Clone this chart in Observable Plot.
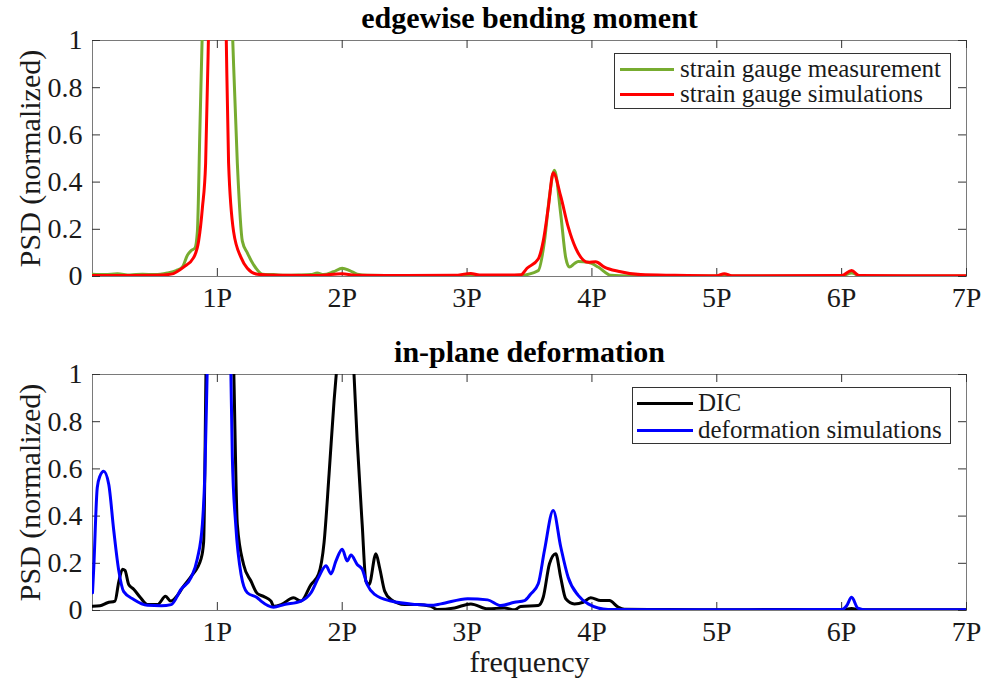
<!DOCTYPE html>
<html>
<head>
<meta charset="utf-8">
<script src="https://cdn.jsdelivr.net/npm/d3@7"></script>
<script src="https://cdn.jsdelivr.net/npm/@observablehq/plot@0.6"></script>
<style>
  html, body { margin: 0; padding: 0; background: #fff; }
  #chart { position: relative; width: 985px; height: 679px; font-family: "Liberation Serif", "Times New Roman", serif; color: #1a1a1a; }
  .panel { position: absolute; left: 0; }
  .legend { position: absolute; border: 1px solid #333; background: #fff; box-sizing: border-box; }
  .legend .sw { position: absolute; height: 3px; }
  .legend .lb { position: absolute; font-size: 25px; line-height: 25px; white-space: nowrap; }
</style>
</head>
<body>
<div id="chart"></div>
<script>
// ---------- data (frequency in multiples of P, normalized PSD) ----------
const xTicks = [1, 2, 3, 4, 5, 6, 7];
const xTickLabels = ["1P", "2P", "3P", "4P", "5P", "6P", "7P"];
const yTicks = [0, 0.2, 0.4, 0.6, 0.8, 1];
const yTickLabels = ["0", "0.2", "0.4", "0.6", "0.8", "1"];

const titles = ["edgewise bending moment", "in-plane deformation"];
const yLabel = "PSD (normalized)";
const xLabel = "frequency";
const seriesNames = ["strain gauge measurement", "strain gauge simulations", "DIC", "deformation simulations"];

const gaugeMeasurement = [
  [0,0.01],[0.1,0.008],[0.2,0.012],[0.3,0.006],[0.4,0.01],[0.5,0.008],[0.6,0.015],[0.67,0.025],
  [0.72,0.04],[0.76,0.09],[0.79,0.11],[0.82,0.12],[0.84,0.19],[0.86,0.62],[0.88,1.05],[1.0,3.0],
  [1.12,1.05],[1.16,0.48],[1.2,0.15],[1.24,0.1],[1.29,0.05],[1.36,0.01],[1.45,0.008],[1.55,0.005],
  [1.65,0.006],[1.75,0.008],[1.8,0.015],[1.85,0.008],[1.93,0.02],[2.0,0.035],[2.06,0.025],[2.12,0.01],
  [2.2,0.005],[2.4,0.004],[2.6,0.004],[2.8,0.003],[3.0,0.004],[3.2,0.003],[3.43,0.005],[3.57,0.025],
  [3.62,0.15],[3.66,0.34],[3.70,0.45],[3.75,0.265],[3.79,0.08],[3.82,0.04],[3.86,0.055],[3.89,0.064],
  [3.97,0.06],[4.05,0.04],[4.15,0.005],[4.3,0.002],[4.6,0.002],[5.0,0.002],[5.06,0.006],[5.12,0.002],
  [5.5,0.002],[6.0,0.002],[6.08,0.015],[6.15,0.002],[7,0.002]
];
const gaugeSimulation = [
  [0,0.004],[0.3,0.004],[0.5,0.005],[0.63,0.01],[0.73,0.04],[0.81,0.08],[0.85,0.15],[0.88,0.29],
  [0.906,0.48],[0.93,1.05],[1.0,3.5],[1.07,1.05],[1.09,0.48],[1.13,0.19],[1.19,0.08],[1.24,0.035],
  [1.32,0.01],[1.5,0.005],[1.8,0.004],[2.0,0.012],[2.1,0.005],[2.5,0.004],[2.9,0.005],[3.03,0.013],
  [3.1,0.006],[3.3,0.006],[3.43,0.007],[3.48,0.035],[3.57,0.074],[3.61,0.15],[3.65,0.29],[3.69,0.44],
  [3.75,0.34],[3.81,0.21],[3.87,0.12],[3.97,0.06],[4.03,0.062],[4.10,0.04],[4.21,0.022],[4.39,0.008],
  [4.66,0.005],[5.0,0.003],[5.06,0.012],[5.12,0.003],[6.0,0.004],[6.08,0.025],[6.14,0.004],[7,0.003]
];
const dicMeasurement = [
  [0,0.018],[0.06,0.02],[0.12,0.033],[0.18,0.04],[0.21,0.12],[0.24,0.175],[0.26,0.17],[0.29,0.11],
  [0.33,0.09],[0.385,0.054],[0.44,0.025],[0.52,0.025],[0.585,0.06],[0.625,0.04],[0.695,0.075],[0.72,0.096],
  [0.79,0.145],[0.87,0.22],[0.89,0.29],[0.91,1.05],[1.0,3.0],[1.13,1.05],[1.16,0.365],[1.21,0.195],
  [1.27,0.124],[1.32,0.072],[1.37,0.06],[1.43,0.04],[1.45,0.018],[1.51,0.025],[1.61,0.054],[1.67,0.04],
  [1.75,0.11],[1.81,0.153],[1.855,0.29],[1.895,0.58],[1.935,0.89],[1.96,1.05],[2.03,1.6],[2.09,1.05],
  [2.12,0.72],[2.16,0.365],[2.19,0.124],[2.215,0.11],[2.27,0.24],[2.30,0.18],[2.34,0.082],[2.39,0.047],
  [2.5,0.025],[2.6,0.025],[2.71,0.018],[2.76,0.004],[2.9,0.011],[3.03,0.028],[3.165,0.007],[3.30,0.011],
  [3.38,0.003],[3.43,0.017],[3.57,0.021],[3.61,0.056],[3.66,0.198],[3.71,0.24],[3.75,0.14],[3.79,0.05],
  [3.86,0.028],[3.93,0.035],[3.99,0.054],[4.07,0.042],[4.14,0.042],[4.21,0.014],[4.26,0.005],[4.6,0.004],
  [5.0,0.003],[5.5,0.004],[6.0,0.003],[6.08,0.008],[6.15,0.003],[7,0.003]
];
const deformationSimulation = [
  [0,0.075],[0.01,0.18],[0.038,0.52],[0.06,0.57],[0.09,0.59],[0.13,0.535],[0.17,0.34],[0.21,0.17],
  [0.25,0.08],[0.33,0.047],[0.44,0.022],[0.55,0.02],[0.63,0.025],[0.71,0.09],[0.79,0.14],[0.84,0.22],
  [0.88,0.365],[0.90,0.58],[0.92,1.05],[1.0,3.0],[1.107,1.05],[1.12,0.65],[1.147,0.365],[1.19,0.153],
  [1.24,0.075],[1.32,0.054],[1.35,0.04],[1.45,0.014],[1.535,0.025],[1.67,0.04],[1.75,0.075],[1.81,0.14],
  [1.87,0.19],[1.91,0.155],[1.95,0.21],[2.0,0.26],[2.04,0.21],[2.07,0.235],[2.12,0.195],[2.16,0.175],
  [2.20,0.11],[2.26,0.068],[2.39,0.04],[2.6,0.025],[2.71,0.022],[2.79,0.028],[3.005,0.05],[3.165,0.045],
  [3.27,0.021],[3.38,0.035],[3.46,0.042],[3.51,0.07],[3.57,0.113],[3.62,0.255],[3.69,0.424],[3.75,0.27],
  [3.81,0.14],[3.89,0.064],[3.97,0.028],[4.13,0.004],[5,0.003],[6.0,0.004],[6.04,0.02],[6.08,0.056],
  [6.13,0.01],[6.2,0.003],[7,0.003]
];
const colors = ["#77AC30", "#FF0000", "#000000", "#0000FF"];

// ---------- drawing ----------
const W = 985, ML = 92, MR = 19;
const innerW = W - ML - MR;
const innerH = 236;
const tickLen = 8;

function panel({series, title, top, height, marginTop, showXLabel}) {
  const marginBottom = height - marginTop - innerH;
  const marks = [
    Plot.frame({stroke: "#7a7a7a", strokeWidth: 1}),
    Plot.tickX(xTicks, {x: d => d, insetTop: innerH - tickLen, stroke: "#333"}),
    Plot.tickX(xTicks, {x: d => d, insetBottom: innerH - tickLen, stroke: "#333"}),
    Plot.tickY(yTicks, {y: d => d, insetRight: innerW - tickLen, stroke: "#333"}),
    Plot.tickY(yTicks, {y: d => d, insetLeft: innerW - tickLen, stroke: "#333"})
  ];
  for (const s of series) {
    marks.push(Plot.line(s.data, {x: d => d[0], y: d => d[1], stroke: s.color, strokeWidth: s.width, clip: true, curve: "monotone-x", strokeLinejoin: "round"}));
  }
  marks.push(Plot.text([title], {frameAnchor: "top", textAnchor: "middle", lineAnchor: "bottom", dy: -13, fontSize: 30, fontWeight: "bold", fill: "#000"}));
  marks.push(Plot.text([yLabel], {frameAnchor: "left", textAnchor: "middle", lineAnchor: "middle", dx: -62, rotate: -90, fontSize: 30, fill: "#1a1a1a"}));
  if (showXLabel) marks.push(Plot.text([xLabel], {frameAnchor: "bottom", textAnchor: "middle", lineAnchor: "middle", dy: 52, fontSize: 30, fill: "#1a1a1a"}));
  const svg = Plot.plot({
    width: W, height, marginLeft: ML, marginRight: MR, marginTop, marginBottom,
    style: {fontFamily: "'Liberation Serif', 'Times New Roman', serif", fontSize: "28px", color: "#1a1a1a", background: "transparent", overflow: "visible"},
    x: {domain: [0, 7], ticks: xTicks, tickFormat: d => xTickLabels[xTicks.indexOf(d)], tickSize: 0, tickPadding: 11, label: null},
    y: {domain: [0, 1], ticks: yTicks, tickFormat: d => yTickLabels[yTicks.indexOf(d)], tickSize: 0, tickPadding: 10, label: null},
    marks
  });
  svg.classList.add("panel");
  svg.style.top = top + "px";
  return svg;
}

function legend({items, left, top, width, height, lineLeft, lineW, textLeft, rowYs}) {
  const box = document.createElement("div");
  box.className = "legend";
  Object.assign(box.style, {left: left + "px", top: top + "px", width: width + "px", height: height + "px"});
  items.forEach((it, i) => {
    const sw = document.createElement("div");
    sw.className = "sw";
    Object.assign(sw.style, {left: lineLeft + "px", width: lineW + "px", top: (rowYs[i] - 1.5) + "px", background: it.color});
    const lb = document.createElement("div");
    lb.className = "lb";
    lb.textContent = it.name;
    Object.assign(lb.style, {left: textLeft + "px", top: (rowYs[i] - 13) + "px"});
    box.append(sw, lb);
  });
  return box;
}

const chart = document.getElementById("chart");
chart.append(panel({
  series: [{data: gaugeMeasurement, color: colors[0], width: 3}, {data: gaugeSimulation, color: colors[1], width: 3}],
  title: titles[0], top: 0, height: 330, marginTop: 40, showXLabel: false
}));
chart.append(panel({
  series: [{data: dicMeasurement, color: colors[2], width: 3}, {data: deformationSimulation, color: colors[3], width: 3}],
  title: titles[1], top: 330, height: 349, marginTop: 44, showXLabel: true
}));
chart.append(legend({
  items: [{name: seriesNames[0], color: colors[0]}, {name: seriesNames[1], color: colors[1]}],
  left: 614, top: 53, width: 337, height: 56, lineLeft: 5, lineW: 54, textLeft: 65, rowYs: [15, 40]
}));
chart.append(legend({
  items: [{name: seriesNames[2], color: colors[2]}, {name: seriesNames[3], color: colors[3]}],
  left: 632, top: 387, width: 319, height: 57, lineLeft: 4, lineW: 56, textLeft: 65, rowYs: [15, 42]
}));
</script>
</body>
</html>
